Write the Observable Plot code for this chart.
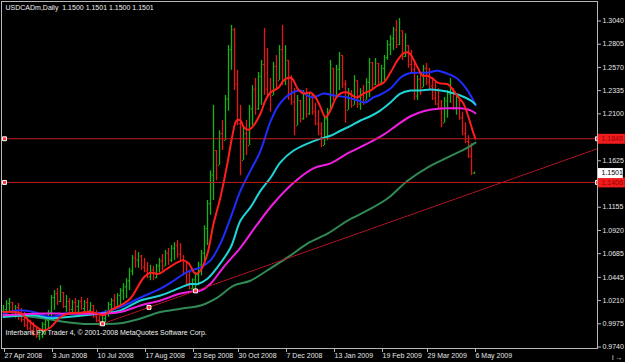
<!DOCTYPE html>
<html><head><meta charset="utf-8">
<script src="https://cdn.jsdelivr.net/npm/d3@7"></script>
<script src="https://cdn.jsdelivr.net/npm/@observablehq/plot@0.6"></script>
<style>html,body{margin:0;padding:0;background:#000;}</style>
</head><body><div id="chart"></div>
<script>
const symbolTitle = "USDCADm,Daily\u00a0 1.1500 1.1501 1.1500 1.1501";
const copyright = "Interbank FX Trader 4, © 2001-2008 MetaQuotes Software Corp.";
const dateLabels = ["27 Apr 2008","3 Jun 2008","10 Jul 2008","17 Aug 2008","23 Sep 2008","30 Oct 2008","7 Dec 2008","13 Jan 2009","19 Feb 2009","29 Mar 2009","6 May 2009"];
const dateTickBars = [0,16,31,47,63,78,94,110,126,141,157];
const priceTicks = [1.3040,1.2805,1.2570,1.2335,1.2100,1.1625,1.1155,1.0920,1.0685,1.0445,1.0210,0.9975,0.9740];

const firstOpen = 1.0100;
const high = [1.0161,1.0211,1.0231,1.0191,1.0161,1.0181,1.0131,1.0091,1.0031,1.0011,
0.9987,0.9947,0.9927,0.9987,1.0031,1.0111,1.0261,1.0311,1.0331,1.0361,
1.0291,1.0261,1.0231,1.0211,1.0231,1.0211,1.0241,1.0211,1.0231,1.0191,
1.0161,1.0111,1.0071,1.0051,1.0111,1.0191,1.0231,1.0271,1.0281,1.0331,
1.0381,1.0431,1.0537,1.0667,1.0717,1.0697,1.0667,1.0637,1.0597,1.0567,
1.0557,1.0577,1.0637,1.0677,1.0717,1.0737,1.0767,1.0797,1.0817,1.0787,
1.0667,1.0597,1.0511,1.0431,1.0491,1.0597,1.0717,1.0967,1.1223,1.1523,
1.2186,1.1729,1.1929,1.2033,1.2286,1.2791,1.2995,1.2965,1.2541,1.2186,
1.1979,1.2033,1.2186,1.2388,1.2458,1.2518,1.2641,1.2965,1.2761,1.2458,
1.2621,1.2691,1.2791,1.2995,1.2791,1.2641,1.2486,1.2356,1.2286,1.2236,
1.2336,1.2356,1.2316,1.2286,1.2206,1.2136,1.2009,1.2086,1.2156,1.2641,
1.2561,1.2591,1.2721,1.2691,1.2436,1.2356,1.2336,1.2486,1.2436,1.2356,
1.2386,1.2456,1.2661,1.2621,1.2661,1.2611,1.2591,1.2691,1.2841,1.2891,
1.2975,1.3045,1.3065,1.2941,1.2911,1.2791,1.2741,1.2641,1.2486,1.2516,
1.2591,1.2611,1.2561,1.2466,1.2416,1.2356,1.2236,1.2266,1.2336,1.2458,
1.2356,1.2286,1.2236,1.2116,1.2009,1.1879,1.1799,1.1510];
const low = [1.0031,1.0061,1.0091,1.0071,1.0031,1.0011,0.9987,0.9937,0.9907,0.9877,
0.9847,0.9827,0.9807,0.9827,0.9867,0.9927,1.0031,1.0111,1.0161,1.0191,
1.0131,1.0091,1.0091,1.0071,1.0091,1.0061,1.0111,1.0071,1.0091,1.0061,
1.0031,0.9987,0.9950,0.9975,0.9987,1.0041,1.0081,1.0111,1.0131,1.0161,
1.0211,1.0231,1.0311,1.0461,1.0537,1.0537,1.0517,1.0491,1.0431,1.0411,
1.0411,1.0431,1.0491,1.0511,1.0557,1.0567,1.0597,1.0617,1.0637,1.0597,
1.0461,1.0361,1.0320,1.0315,1.0308,1.0361,1.0461,1.0597,1.0767,1.1073,
1.1223,1.1423,1.1579,1.1729,1.1829,1.2126,1.2541,1.2336,1.1979,1.1473,
1.1629,1.1679,1.1779,1.1979,1.2086,1.2136,1.2186,1.2286,1.2256,1.2116,
1.2286,1.2336,1.2436,1.2386,1.2386,1.2236,1.2186,1.1879,1.1979,1.2009,
1.2036,1.2056,1.2086,1.2086,1.1979,1.1879,1.1759,1.1779,1.1829,1.2136,
1.2236,1.2256,1.2336,1.2356,1.2006,1.2136,1.2156,1.2186,1.2156,1.2136,
1.2186,1.2236,1.2266,1.2356,1.2386,1.2386,1.2386,1.2436,1.2641,1.2691,
1.2741,1.2761,1.2791,1.2641,1.2671,1.2561,1.2516,1.2236,1.2236,1.2286,
1.2366,1.2386,1.2336,1.2236,1.2186,1.2136,1.1959,1.2006,1.2056,1.2206,
1.2136,1.2086,1.2036,1.1879,1.1799,1.1649,1.1477,1.1490];
const close = [1.0120,1.0180,1.0200,1.0100,1.0140,1.0060,1.0020,0.9960,0.9930,0.9900,
0.9870,0.9850,0.9900,0.9970,1.0010,1.0090,1.0240,1.0280,1.0200,1.0330,
1.0150,1.0200,1.0120,1.0190,1.0150,1.0200,1.0130,1.0190,1.0110,1.0160,
1.0050,1.0010,0.9970,1.0030,1.0090,1.0170,1.0210,1.0150,1.0260,1.0310,
1.0350,1.0410,1.0510,1.0640,1.0620,1.0660,1.0550,1.0510,1.0450,1.0520,
1.0440,1.0560,1.0610,1.0560,1.0690,1.0620,1.0740,1.0770,1.0680,1.0620,
1.0490,1.0380,1.0330,1.0420,1.0470,1.0570,1.0690,1.0940,1.1190,1.1480,
1.2100,1.1450,1.1900,1.1760,1.2250,1.2750,1.2950,1.2400,1.2000,1.1500,
1.1900,1.1700,1.2150,1.2350,1.2150,1.2480,1.2600,1.2350,1.2300,1.2150,
1.2580,1.2400,1.2750,1.2450,1.2750,1.2300,1.2220,1.1950,1.2250,1.2050,
1.2300,1.2100,1.2280,1.2120,1.2000,1.1900,1.1780,1.2050,1.2120,1.2600,
1.2280,1.2550,1.2700,1.2400,1.2050,1.2300,1.2180,1.2450,1.2200,1.2330,
1.2220,1.2420,1.2620,1.2400,1.2630,1.2420,1.2560,1.2670,1.2800,1.2860,
1.2950,1.2800,1.3020,1.2680,1.2880,1.2600,1.2550,1.2280,1.2450,1.2320,
1.2560,1.2420,1.2380,1.2260,1.2200,1.2160,1.1990,1.2230,1.2300,1.2430,
1.2160,1.2260,1.2060,1.1900,1.1820,1.1670,1.1500,1.1501];

// moving averages: [bar index, price]
const maRed = [[0,1.0094],[5.7,1.0081],[9,0.9990],[13.3,0.9907],[15.7,0.9940],[19,1.0044],[22.3,1.0084],[25.7,1.0088],[29,1.0094],[31.3,1.0078],[33.3,1.0061],[35.7,1.0111],[39,1.0161],[42.3,1.0231],[46.7,1.0441],[49,1.0491],[51.7,1.0481],[54.7,1.0537],[58,1.0597],[60,1.0617],[61.7,1.0587],[64,1.0481],[65.7,1.0517],[68,1.0687],[70,1.0987],[72.3,1.1253],[74.7,1.1609],[76.3,1.1879],[77.7,1.2033],[79,1.2033],[80,1.1969],[81.7,1.1939],[83.3,1.1979],[85.7,1.2106],[87.3,1.2236],[89,1.2316],[91.7,1.2366],[93.3,1.2436],[95,1.2466],[96.3,1.2456],[98,1.2356],[100,1.2306],[102.3,1.2316],[104,1.2266],[105.7,1.2166],[107.3,1.2066],[109,1.2136],[110.7,1.2256],[112.3,1.2306],[114.7,1.2316],[116.3,1.2286],[118,1.2266],[120,1.2306],[122.3,1.2336],[124.7,1.2386],[126.7,1.2416],[129,1.2518],[131.3,1.2641],[133.3,1.2711],[135,1.2721],[136.3,1.2671],[138,1.2571],[139.7,1.2486],[141.3,1.2486],[143,1.2458],[144.7,1.2416],[146.3,1.2406],[148.3,1.2396],[150,1.2336],[151.7,1.2266],[153.3,1.2206],[155,1.2066],[156.7,1.1899],[157.3,1.1849]];
const maBlue = [[0,1.0081],[5.7,1.0111],[10,1.0094],[15.7,1.0044],[21.3,1.0081],[32.3,1.0084],[39,1.0144],[45.7,1.0241],[52.3,1.0331],[56.7,1.0411],[61.3,1.0501],[65.7,1.0547],[69,1.0617],[72.3,1.0787],[75.7,1.1050],[79,1.1323],[82.3,1.1523],[85.7,1.1729],[89,1.2023],[91.7,1.2186],[94,1.2266],[95.7,1.2306],[99,1.2336],[101.3,1.2286],[103.3,1.2266],[106.7,1.2306],[110,1.2286],[114.7,1.2266],[118,1.2236],[120.7,1.2216],[123.3,1.2266],[125.7,1.2296],[129,1.2356],[132.3,1.2466],[134.7,1.2506],[138,1.2516],[141.3,1.2516],[144.7,1.2536],[148,1.2506],[151.3,1.2456],[154,1.2366],[156.3,1.2256],[157.3,1.2186]];
const maCyan = [[0,1.0044],[10,1.0061],[15.7,1.0031],[21.3,1.0044],[32.3,1.0078],[39,1.0111],[45.7,1.0211],[52.3,1.0261],[59,1.0341],[62.3,1.0378],[64.7,1.0378],[68,1.0431],[71.3,1.0547],[75.7,1.0747],[79,1.1020],[82.3,1.1153],[85.7,1.1323],[89,1.1453],[92.3,1.1609],[96.7,1.1729],[101.3,1.1799],[105.7,1.1849],[109,1.1879],[112.3,1.1929],[115.7,1.1979],[119,1.2033],[122.3,1.2076],[125.7,1.2136],[129,1.2216],[132.3,1.2306],[135.7,1.2336],[139,1.2336],[142.3,1.2346],[145.7,1.2336],[149,1.2316],[152.3,1.2286],[155.7,1.2236],[157.3,1.2196]];
const maMagenta = [[0,1.0061],[10,1.0078],[21.3,1.0078],[32.3,1.0078],[39,1.0094],[45.7,1.0161],[52.3,1.0211],[59,1.0281],[63.3,1.0304],[65.7,1.0311],[69,1.0381],[73.3,1.0547],[79,1.0747],[84.7,1.0987],[90,1.1193],[96.7,1.1403],[103.3,1.1549],[109,1.1599],[114.7,1.1699],[121.3,1.1799],[126.7,1.1889],[131.3,1.1989],[135.7,1.2076],[140,1.2126],[144.7,1.2151],[149,1.2156],[152.3,1.2156],[155.7,1.2136],[157.3,1.2106]];
const maGreen = [[0,1.0061],[10,1.0044],[15.7,1.0018],[21.3,0.9990],[26.7,0.9974],[32.3,0.9974],[39,0.9980],[45.7,1.0028],[52.3,1.0094],[59,1.0128],[65.7,1.0161],[71.3,1.0241],[76.7,1.0361],[82.3,1.0411],[88,1.0517],[94.7,1.0647],[101.3,1.0787],[108,1.0887],[114.7,1.1020],[121.3,1.1122],[128,1.1243],[134.7,1.1423],[141.3,1.1556],[148,1.1659],[154.7,1.1759],[157.3,1.1809]];

const levels = [1.1848, 1.1406];
const trendAnchors = [[33, 0.9975], [64, 1.0308]];
const rightEdgeBar = 198;

const bars = high.map((h, i) => {
  const o0 = i === 0 ? firstOpen : close[i - 1];
  const o = Math.min(h, Math.max(low[i], o0));
  return {i, high: h, low: low[i], open: o, close: close[i], up: close[i] >= o};
});
const upBars = bars.filter(d => d.up), downBars = bars.filter(d => !d.up);
const lastPrice = close[close.length - 1];

const [A, B] = trendAnchors;
const slope = (B[1] - A[1]) / (B[0] - A[0]);
const trendRay = [A, [rightEdgeBar, A[1] + slope * (rightEdgeBar - A[0])]];
const trendMarks = [A, [(A[0] + B[0]) / 2, (A[1] + B[1]) / 2], B];

const UP = "#14b414", DOWN = "#e41616";
const pt = {x: d => d[0], y: d => d[1]};
const barMarks = (data, color) => [
  Plot.ruleX(data, {x: "i", y1: "low", y2: "high", stroke: color, strokeWidth: 1.3}),
  Plot.ruleY(data, {y: "open", x1: d => d.i - 0.4, x2: "i", stroke: color}),
  Plot.ruleY(data, {y: "close", x1: "i", x2: d => d.i + 0.4, stroke: color})
];
const marker = {symbol: "square", r: 2.2, fill: "#ff3030", stroke: "#ffffff", strokeWidth: 1};

const chart = Plot.plot({
  width: 625, height: 362,
  marginLeft: 1, marginRight: 28, marginTop: 1, marginBottom: 14,
  style: {background: "#000", color: "#e6e6e6", fontFamily: "'Liberation Sans', Arial, sans-serif", fontSize: "7px", overflow: "visible"},
  x: {domain: [-0.67, rightEdgeBar], axis: null},
  y: {domain: [0.9725, 1.32374], axis: null},
  marks: [
    ...barMarks(upBars, UP),
    ...barMarks(downBars, DOWN),
    Plot.line(maGreen, {...pt, stroke: "#2f8a55", strokeWidth: 2, curve: "catmull-rom"}),
    Plot.line(maBlue, {...pt, stroke: "#1f2dff", strokeWidth: 2, curve: "catmull-rom"}),
    Plot.line(maCyan, {...pt, stroke: "#20d4d8", strokeWidth: 2, curve: "catmull-rom"}),
    Plot.line(maMagenta, {...pt, stroke: "#f01ee0", strokeWidth: 2, curve: "catmull-rom"}),
    Plot.line(maRed, {...pt, stroke: "#ff1e1e", strokeWidth: 2, curve: "catmull-rom"}),
    Plot.ruleY(levels, {stroke: "#c21c1c", strokeWidth: 1}),
    Plot.line(trendRay, {...pt, stroke: "#c01428", strokeWidth: 1, strokeDasharray: "2,1"}),
    Plot.dot(trendMarks, {...pt, ...marker}),
    Plot.dot(levels, {y: d => d, frameAnchor: "left", dx: 3, ...marker}),
    Plot.dot(levels, {y: d => d, frameAnchor: "right", ...marker}),
    Plot.frame({stroke: "#b8b8b8"}),
    Plot.axisY(priceTicks, {anchor: "right", tickSize: 3, tickPadding: 2, tickFormat: d3.format(".4f"), stroke: "#b8b8b8", fill: "#e6e6e6", fontSize: 7}),
    Plot.axisX(dateTickBars, {anchor: "bottom", tickSize: 4, tickPadding: 1, tickFormat: d => dateLabels[dateTickBars.indexOf(d)], textAnchor: "start", dx: 1, stroke: "#b8b8b8", fill: "#e6e6e6", fontSize: 7}),
    Plot.ruleY(levels, {y: d => d, x1: rightEdgeBar + 0.3, x2: rightEdgeBar + 9.3, stroke: "#ee1c1c", strokeWidth: 10}),
    Plot.text(levels, {y: d => d, frameAnchor: "right", dx: 4, textAnchor: "start", text: d => d.toFixed(4), fill: "#9a0000", fontSize: 7}),
    Plot.ruleY([lastPrice], {y: d => d, x1: rightEdgeBar + 0.3, x2: rightEdgeBar + 8.6, stroke: "#ffffff", strokeWidth: 10}),
    Plot.text([lastPrice], {y: d => d, frameAnchor: "right", dx: 4, textAnchor: "start", text: d => d.toFixed(4), fill: "#000", fontSize: 7}),
    Plot.text([symbolTitle], {frameAnchor: "top-left", dx: 4, dy: 4, lineAnchor: "top", textAnchor: "start", text: d => d, fill: "#f0f0f0", fontSize: 7}),
    Plot.text([copyright], {frameAnchor: "bottom-left", dx: 4, dy: -14, lineAnchor: "bottom", textAnchor: "start", text: d => d, fill: "#f0f0f0", fontSize: 7})
  ]
});
document.getElementById("chart").appendChild(chart);
</script>
</body></html>
